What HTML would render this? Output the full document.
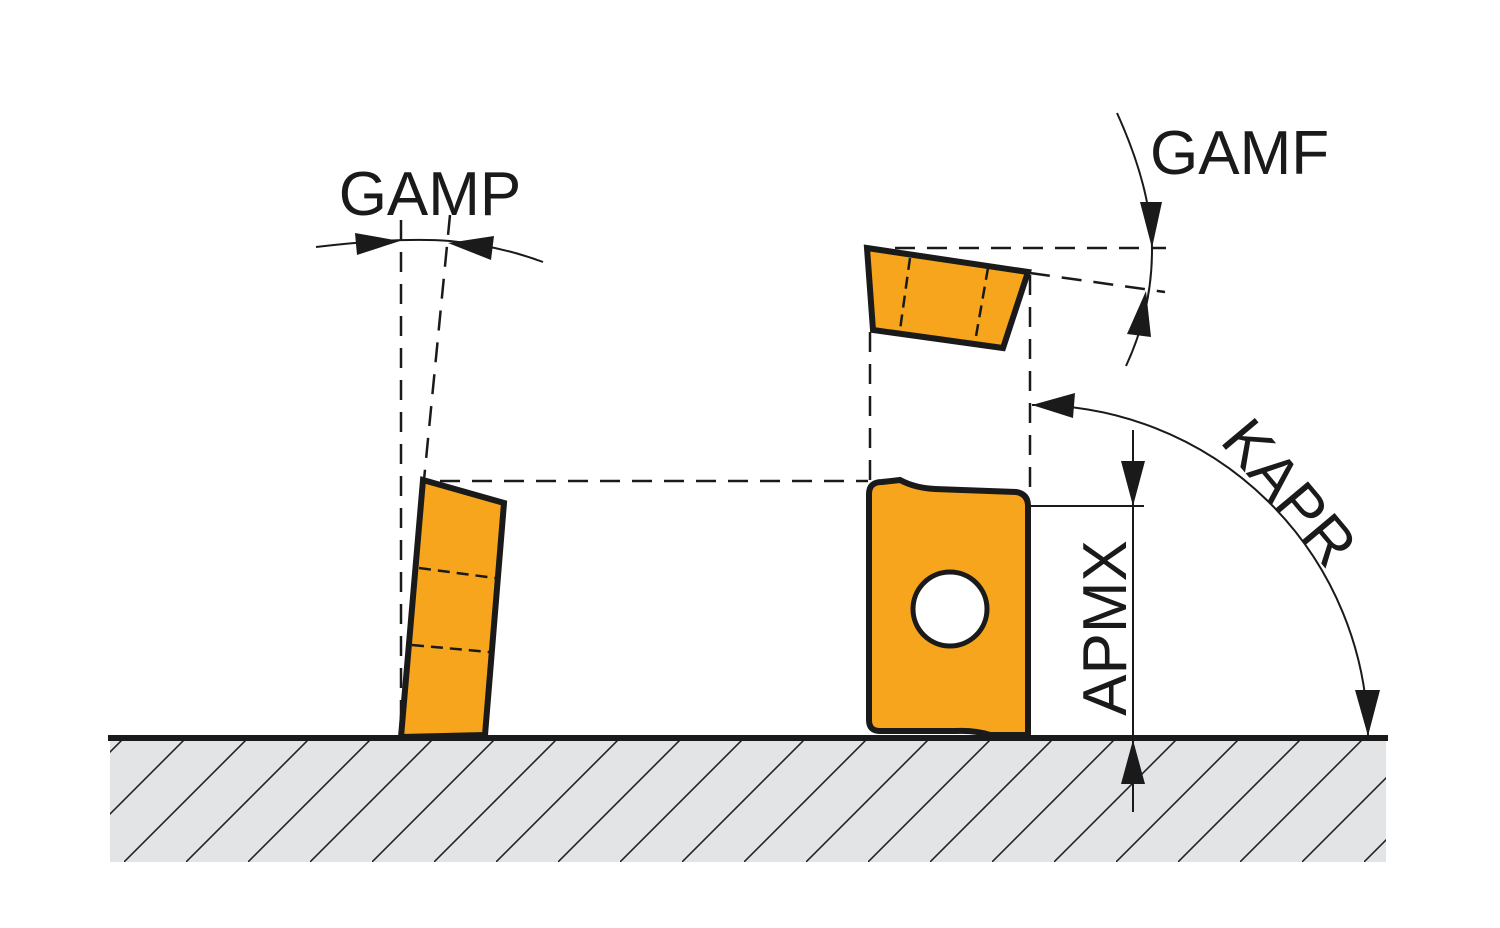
<!DOCTYPE html>
<html><head><style>html,body{margin:0;padding:0;background:#fff;}svg{display:block}</style></head>
<body>
<svg width="1500" height="928" viewBox="0 0 1500 928" xmlns="http://www.w3.org/2000/svg">
<defs>
<pattern id="h" patternUnits="userSpaceOnUse" width="62" height="124" x="0" y="738">
<line x1="-62" y1="124" x2="62" y2="0" stroke="#222" stroke-width="1.6"/>
<line x1="0" y1="124" x2="124" y2="0" stroke="#222" stroke-width="1.6"/>
</pattern>
</defs>
<rect x="110" y="738" width="1276" height="124" fill="#e3e4e6"/>
<rect x="110" y="738" width="1276" height="124" fill="url(#h)"/>
<line x1="108" y1="738" x2="1388" y2="738" stroke="#1a1a1a" stroke-width="6"/>

<g fill="none" stroke="#1a1a1a" stroke-width="2.5" stroke-dasharray="20,12">
<line x1="401" y1="220" x2="401" y2="736"/>
<line x1="450" y1="215" x2="424" y2="480"/>
<line x1="440" y1="481" x2="868" y2="481"/>
<line x1="895" y1="248" x2="1166" y2="248"/>
<line x1="1030" y1="273" x2="1165" y2="292"/>
<line x1="870" y1="332" x2="870" y2="480"/>
<line x1="1030" y1="275" x2="1030" y2="488"/>
</g>

<polygon points="423,480 504,503 485,735 401,737" fill="#f6a51d" stroke="#1a1a1a" stroke-width="6" stroke-linejoin="miter"/>
<g stroke="#1a1a1a" stroke-width="2.5" stroke-dasharray="12,7">
<line x1="419" y1="568" x2="495" y2="578"/>
<line x1="412" y1="645" x2="489" y2="652"/>
</g>

<polygon points="867,248 1028,272 1003,348 873,330" fill="#f6a51d" stroke="#1a1a1a" stroke-width="6"/>
<g stroke="#1a1a1a" stroke-width="2.5" stroke-dasharray="12,7">
<line x1="910" y1="258" x2="900" y2="330"/>
<line x1="988" y1="268" x2="975" y2="342"/>
</g>

<path d="M882,482 L900,480 Q915,488 935,489 L1016,492 Q1028,494 1028,506 L1028,735 L990,735 Q975,730 955,731 L880,731 Q869,731 869,720 L869,494 Q869,482 882,482 Z" fill="#f6a51d" stroke="#1a1a1a" stroke-width="6"/>
<circle cx="950" cy="609" r="37" fill="#fff" stroke="#1a1a1a" stroke-width="5"/>

<path d="M316,247 Q400,237 450,241 Q500,246 543,262" fill="none" stroke="#1a1a1a" stroke-width="2"/>
<polygon points="400,241 355,233 357,255" fill="#1a1a1a"/>
<polygon points="448,243 494,236 491,260" fill="#1a1a1a"/>
<text x="430" y="215" font-family="Liberation Sans, sans-serif" font-size="62" text-anchor="middle" fill="#1a1a1a">GAMP</text>

<path d="M1117,113 Q1152,190 1152,250 Q1152,310 1126,366" fill="none" stroke="#1a1a1a" stroke-width="2"/>
<polygon points="1152,248 1140,202 1162,202" fill="#1a1a1a"/>
<polygon points="1146,291 1127,334 1151,337" fill="#1a1a1a"/>
<text x="1150" y="174" font-family="Liberation Sans, sans-serif" font-size="62" fill="#1a1a1a">GAMF</text>

<path d="M1032,405 A335,335 0 0 1 1368,735" fill="none" stroke="#1a1a1a" stroke-width="2"/>
<polygon points="1032,405 1075,393 1073,418" fill="#1a1a1a"/>
<polygon points="1368,736 1355,690 1380,690" fill="#1a1a1a"/>
<text transform="translate(1290,492) rotate(50)" font-family="Liberation Sans, sans-serif" font-size="62" text-anchor="middle" fill="#1a1a1a" dy="22">KAPR</text>

<line x1="1030" y1="506" x2="1144" y2="506" stroke="#1a1a1a" stroke-width="2"/>
<line x1="1133" y1="430" x2="1133" y2="812" stroke="#1a1a1a" stroke-width="2"/>
<polygon points="1133,506 1121,461 1145,461" fill="#1a1a1a"/>
<polygon points="1133,740 1121,784 1145,784" fill="#1a1a1a"/>
<text transform="translate(1104,628) rotate(-90)" font-family="Liberation Sans, sans-serif" font-size="62" text-anchor="middle" fill="#1a1a1a" dy="22">APMX</text>
</svg>
</body></html>
